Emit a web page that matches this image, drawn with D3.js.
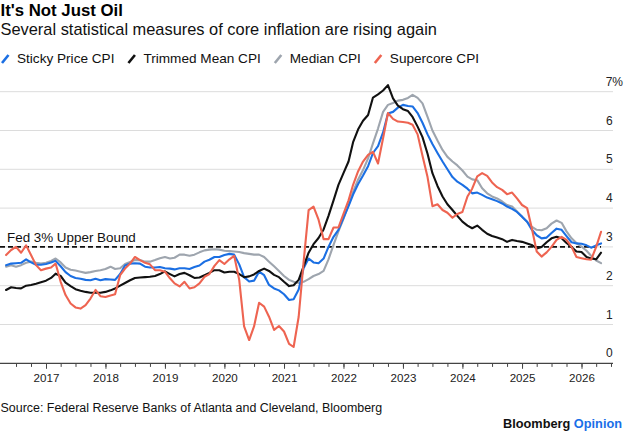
<!DOCTYPE html>
<html>
<head>
<meta charset="utf-8">
<script src="https://cdn.jsdelivr.net/npm/d3@7"></script>
<style>
html,body{margin:0;padding:0;background:#fff;}
svg{display:block;font-family:"Liberation Sans",Arial,Helvetica,sans-serif;}
</style>
</head>
<body>
<svg id="chart" width="625" height="434"></svg>
<script>
// ---- Data (monthly, starting May 2016) ----
const startMonth = [2016, 4]; // year, monthIndex (May)
const stickyCPI = [2.53,2.57,2.58,2.59,2.68,2.6,2.54,2.54,2.56,2.6,2.64,2.5,2.35,2.25,2.2,2.18,2.15,2.14,2.18,2.14,2.17,2.16,2.15,2.3,2.52,2.57,2.58,2.57,2.49,2.47,2.47,2.48,2.45,2.44,2.42,2.45,2.45,2.43,2.48,2.52,2.62,2.67,2.74,2.74,2.79,2.82,2.8,2.55,2.22,2.11,2.13,2.36,2.27,2.02,1.93,1.88,1.78,1.63,1.65,1.9,2.45,2.7,2.6,2.58,2.7,3.0,3.26,3.44,3.75,4.05,4.35,4.62,4.84,5.08,5.42,5.6,5.95,6.44,6.48,6.59,6.66,6.63,6.62,6.45,6.2,5.9,5.65,5.42,5.2,5.0,4.8,4.68,4.6,4.5,4.38,4.4,4.34,4.27,4.23,4.18,4.12,4.04,3.98,3.9,3.78,3.65,3.45,3.3,3.22,3.24,3.36,3.47,3.44,3.28,3.12,3.09,3.08,3.04,2.98,3.04,3.09];
const trimmedMeanCPI = [1.89,1.96,1.94,1.93,2.0,2.02,2.05,2.09,2.13,2.2,2.31,2.25,2.08,1.99,1.91,1.87,1.84,1.82,1.82,1.82,1.84,1.88,1.93,2.0,2.07,2.14,2.2,2.21,2.22,2.23,2.25,2.3,2.37,2.3,2.24,2.3,2.33,2.27,2.2,2.21,2.27,2.33,2.4,2.4,2.34,2.36,2.36,2.3,2.22,2.24,2.29,2.38,2.44,2.38,2.28,2.22,2.1,1.99,2.01,2.15,2.5,2.85,3.07,3.23,3.45,3.8,4.2,4.6,4.9,5.2,5.7,6.03,6.25,6.4,6.85,6.93,7.03,7.17,6.83,6.64,6.55,6.5,6.35,6.1,5.83,5.4,4.9,4.57,4.3,4.1,3.95,3.8,3.65,3.55,3.48,3.55,3.44,3.34,3.28,3.24,3.2,3.13,3.18,3.15,3.13,3.09,3.05,2.96,3.0,3.12,3.22,3.26,3.22,3.1,3.0,2.88,2.87,2.74,2.7,2.68,2.85];
const medianCPI = [2.49,2.53,2.49,2.53,2.59,2.62,2.59,2.57,2.59,2.64,2.7,2.6,2.47,2.41,2.39,2.36,2.33,2.35,2.38,2.4,2.43,2.49,2.43,2.45,2.56,2.61,2.66,2.66,2.62,2.62,2.66,2.71,2.74,2.7,2.72,2.8,2.8,2.77,2.8,2.86,2.91,2.93,2.94,2.93,2.9,2.89,2.88,2.87,2.84,2.82,2.8,2.8,2.74,2.62,2.5,2.38,2.25,2.15,2.1,2.07,2.1,2.17,2.25,2.3,2.38,2.68,3.05,3.4,3.72,4.08,4.42,4.74,4.98,5.28,5.67,6.05,6.48,6.66,6.71,6.77,6.79,6.84,6.92,6.84,6.7,6.35,6.0,5.74,5.5,5.32,5.2,5.1,4.97,4.81,4.74,4.72,4.51,4.38,4.3,4.25,4.17,4.08,4.04,3.91,3.78,3.65,3.52,3.44,3.43,3.48,3.6,3.68,3.62,3.4,3.22,3.1,3.01,2.9,2.77,2.65,2.58];
const supercoreCPI = [2.79,2.92,3.0,2.85,3.04,2.79,2.53,2.4,2.44,2.47,2.57,2.1,1.76,1.54,1.44,1.41,1.5,1.67,1.89,1.73,1.71,1.75,1.78,2.27,2.44,2.57,2.74,2.66,2.59,2.55,2.4,2.4,2.36,2.19,2.06,1.98,2.1,1.93,1.96,2.06,2.23,2.3,2.51,2.66,2.56,2.68,2.77,2.15,0.95,0.6,0.95,1.56,1.46,1.2,0.86,0.96,0.82,0.5,0.42,1.2,2.6,3.95,4.04,3.7,3.2,3.2,3.5,3.5,3.85,4.2,4.6,4.95,5.2,5.37,5.45,5.15,5.8,6.45,6.3,6.23,6.22,6.2,6.15,5.9,5.35,4.8,4.05,4.1,3.95,3.88,3.75,3.85,3.9,4.3,4.5,4.82,4.9,4.83,4.66,4.54,4.47,4.36,4.4,4.25,4.08,4.0,3.5,2.88,2.75,2.86,3.0,3.18,3.26,3.18,3.0,2.74,2.71,2.68,2.67,3.0,3.39];
const seriesNames = ["Sticky Price CPI","Trimmed Mean CPI","Median CPI","Supercore CPI"];
const yTicks = [0,1,2,3,4,5,6,7];
const yTickLabels = ["0","1","2","3","4","5","6","7%"];
const yearTicks = [2017,2018,2019,2020,2021,2022,2023,2024,2025,2026];
const fedTarget = 3;
const fedLabel = "Fed 3% Upper Bound";

// ---- Layout ----
const svg = d3.select("#chart");
const plotLeft = 0, plotRight = 613, plotTop = 91.7, plotBottom = 363.3;
const colors = {"Sticky Price CPI":"#1b6fe3","Trimmed Mean CPI":"#111111","Median CPI":"#9ea5ae","Supercore CPI":"#ee6451"};

const x = d3.scaleTime()
  .domain([new Date(2017,0,1), new Date(2026,0,1)])
  .range([46, 581.5]);
const y = d3.scaleLinear().domain([0,7]).range([plotBottom, plotTop]);

const dates = stickyCPI.map((_, i) => new Date(startMonth[0], startMonth[1] + i, 1));
const seriesData = {
  "Sticky Price CPI": stickyCPI,
  "Trimmed Mean CPI": trimmedMeanCPI,
  "Median CPI": medianCPI,
  "Supercore CPI": supercoreCPI
};

// Title / subtitle
svg.append("text").attr("x",0.5).attr("y",16.2)
  .attr("font-size","16.8px").attr("font-weight","bold").attr("fill","#000")
  .text("It's Not Just Oil");
svg.append("text").attr("x",0.5).attr("y",34.5)
  .attr("font-size","16.4px").attr("fill","#111")
  .text("Several statistical measures of core inflation are rising again");

// Legend
let lx = 2;
seriesNames.forEach(name => {
  const g = svg.append("g");
  g.append("line").attr("x1",lx).attr("y1",63).attr("x2",lx+6.5).attr("y2",55)
    .attr("stroke",colors[name]).attr("stroke-width",2.6);
  const t = g.append("text").attr("x",lx+15).attr("y",63.3)
    .attr("font-size","13.6px").attr("fill","#111").text(name);
  lx = lx + 15 + t.node().getComputedTextLength() + 14;
});

// Gridlines
svg.append("g").selectAll("line").data(yTicks.filter(d => d > 0)).join("line")
  .attr("x1",plotLeft).attr("x2",plotRight)
  .attr("y1",d => y(d)).attr("y2",d => y(d))
  .attr("stroke","#dcdcdc").attr("stroke-width",1);

// Y labels
svg.append("g").selectAll("text").data(yTicks).join("text")
  .attr("x",(d,i) => yTickLabels[i].includes("%") ? 623 : 612.7)
  .attr("y",d => y(d) - 6)
  .attr("text-anchor","end")
  .attr("font-size","12px").attr("fill","#222")
  .text((d,i) => yTickLabels[i]);

// X axis: quarterly minor ticks, yearly major ticks with labels
const minorTicks = d3.timeMonth.every(3).range(x.invert(8), x.invert(plotRight));
svg.append("g").attr("transform",`translate(0,${plotBottom})`)
  .call(d3.axisBottom(x).tickValues(minorTicks).tickSize(3.6).tickFormat(""))
  .call(g => g.select(".domain").remove())
  .call(g => g.selectAll(".tick line").attr("stroke","#444").attr("stroke-width",1));
svg.append("g").attr("transform",`translate(0,${plotBottom})`)
  .call(d3.axisBottom(x).tickValues(yearTicks.map(yr => new Date(yr,0,1)))
    .tickSize(5.5).tickPadding(6).tickFormat(d3.timeFormat("%Y")))
  .call(g => g.select(".domain").remove())
  .call(g => g.selectAll(".tick line").attr("stroke","#444").attr("stroke-width",1))
  .call(g => g.selectAll(".tick text").attr("font-size","11.6px").attr("fill","#222")
    .attr("font-family","'Liberation Sans',Arial,sans-serif").attr("dy",null).attr("y",18.4));
svg.append("line").attr("x1",plotLeft).attr("x2",plotRight)
  .attr("y1",plotBottom).attr("y2",plotBottom).attr("stroke","#444").attr("stroke-width",1.2);

// Fed bound dashed line
svg.append("line").attr("x1",plotLeft).attr("x2",x(dates[dates.length-1]))
  .attr("y1",y(fedTarget)).attr("y2",y(fedTarget))
  .attr("stroke","#111").attr("stroke-width",1.6).attr("stroke-dasharray","5,3");
svg.append("text").attr("x",7).attr("y",y(fedTarget) - 5.2)
  .attr("font-size","13.4px").attr("fill","#111").text(fedLabel);

// Series lines
const line = d3.line().x((d,i) => x(dates[i])).y(d => y(d)).curve(d3.curveLinear);
["Median CPI","Sticky Price CPI","Trimmed Mean CPI","Supercore CPI"].forEach(name => {
  svg.append("path").datum(seriesData[name])
    .attr("d",line).attr("fill","none")
    .attr("stroke",colors[name]).attr("stroke-width",2.1)
    .attr("stroke-linejoin","round").attr("stroke-linecap","round");
});

// Footer
svg.append("text").attr("x",0.5).attr("y",411.5)
  .attr("font-size","12.45px").attr("fill","#111")
  .text("Source: Federal Reserve Banks of Atlanta and Cleveland, Bloomberg");
const brand = svg.append("text").attr("x",622).attr("y",428).attr("text-anchor","end")
  .attr("font-size","12.75px").attr("font-weight","bold");
brand.append("tspan").attr("fill","#111").text("Bloomberg ");
brand.append("tspan").attr("fill","#1a6fe8").text("Opinion");
</script>
</body>
</html>
